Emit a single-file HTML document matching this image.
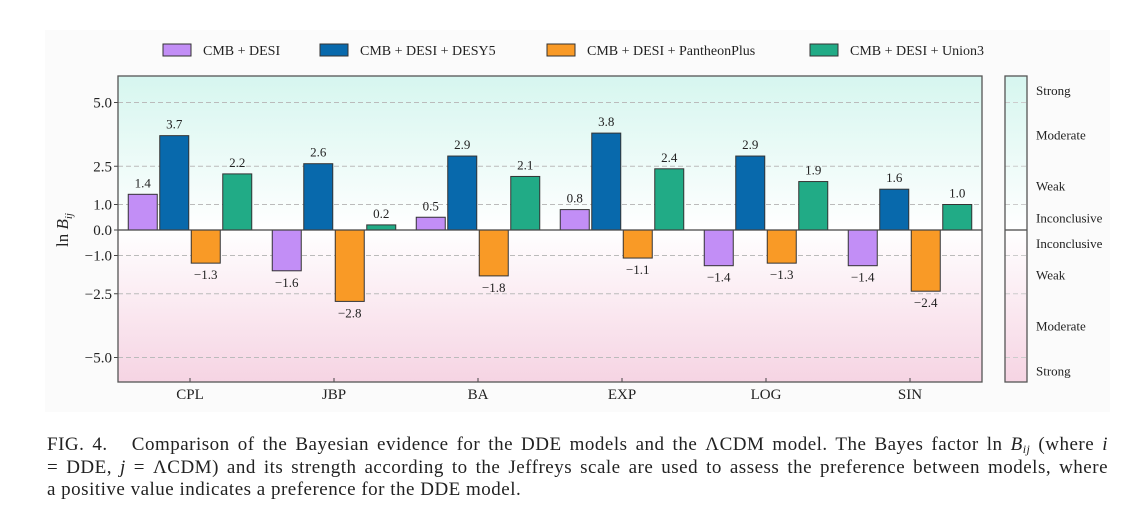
<!DOCTYPE html>
<html><head><meta charset="utf-8"><style>
body{margin:0;background:#fff;width:1147px;height:519px;overflow:hidden;font-family:"Liberation Serif",serif}
.cap{position:absolute;left:47px;top:434px;width:1061px;font-size:19px;letter-spacing:0.5px;line-height:22.5px;color:#222}
.cap div{text-align:justify;text-align-last:justify;white-space:nowrap;height:22.5px}
.cap div.last{text-align-last:left}
.cap sub{font-size:12px;line-height:0;vertical-align:-3px}
</style></head><body>
<svg id="chart" width="1147" height="430" style="position:absolute;left:0;top:0" font-family="Liberation Serif, serif">
<defs>
<linearGradient id="gtop" x1="0" y1="0" x2="0" y2="1"><stop offset="0" stop-color="#d6f6ef"/><stop offset="1" stop-color="#ffffff"/></linearGradient>
<linearGradient id="gbot" x1="0" y1="0" x2="0" y2="1"><stop offset="0" stop-color="#ffffff"/><stop offset="1" stop-color="#f6d4e3"/></linearGradient>
</defs>
<rect x="45" y="30" width="1065" height="382" fill="#fbfbfb"/>
<g id="plot"></g>
<text x="0" y="0" font-size="17" fill="#222" transform="translate(68,230) rotate(-90)" text-anchor="middle">ln <tspan font-style="italic">B</tspan><tspan font-style="italic" font-size="11" dy="4">ij</tspan></text>
</svg>
<div class="cap">
<div>FIG. 4.&nbsp;&nbsp; Comparison of the Bayesian evidence for the DDE models and the ΛCDM model. The Bayes factor ln <i>B<sub>ij</sub></i> (where <i>i</i></div>
<div>= DDE, <i>j</i> = ΛCDM) and its strength according to the Jeffreys scale are used to assess the preference between models, where</div>
<div class="last">a positive value indicates a preference for the DDE model.</div>
</div>
<script>
const categories=["CPL","JBP","BA","EXP","LOG","SIN"];
const seriesNames=["CMB + DESI","CMB + DESI + DESY5","CMB + DESI + PantheonPlus","CMB + DESI + Union3"];
const cmbDesi=[1.4,-1.6,0.5,0.8,-1.4,-1.4];
const desy5=[3.7,2.6,2.9,3.8,2.9,1.6];
const pantheon=[-1.3,-2.8,-1.8,-1.1,-1.3,-2.4];
const union3=[2.2,0.2,2.1,2.4,1.9,1.0];
const yTicks=[5.0,2.5,1.0,0.0,-1.0,-2.5,-5.0];
const yTickLabels=["5.0","2.5","1.0","0.0","−1.0","−2.5","−5.0"];
const scaleLabels=[["Strong",5.5],["Moderate",3.75],["Weak",1.75],["Inconclusive",0.5],["Inconclusive",-0.5],["Weak",-1.75],["Moderate",-3.75],["Strong",-5.5]];
const colors=["#c28ef6","#0869ac","#f99a26","#21ab86"];
const series=[cmbDesi,desy5,pantheon,union3];
const L=118,R=982,T=76,B=382,Y0=230,PX=25.5;
const y=v=>Y0-v*PX;
const x=i=>190+i*144;
const NS="http://www.w3.org/2000/svg";
const g=document.getElementById('plot');
function mk(t,a,txt){const e=document.createElementNS(NS,t);for(const k in a)e.setAttribute(k,a[k]);if(txt!=null)e.textContent=txt;g.appendChild(e);return e;}
let e;
e=mk('rect',{x:L,y:T,width:R-L,height:Y0-T,fill:'url(#gtop)'});


e=mk('rect',{x:L,y:Y0,width:R-L,height:B-Y0,fill:'url(#gbot)'});


e=mk('rect',{x:1005,y:T,width:22,height:Y0-T,fill:'url(#gtop)'});


e=mk('rect',{x:1005,y:Y0,width:22,height:B-Y0,fill:'url(#gbot)'});


yTicks.forEach((v,i)=>{
 if(v!==0){
  e=mk('line',{x1:L,x2:R,y1:y(v),y2:y(v),stroke:'#bbb','stroke-dasharray':'5,3','stroke-width':1});
  
  
  e=mk('line',{x1:1005,x2:1027,y1:y(v),y2:y(v),stroke:'#ccc','stroke-dasharray':'5,3','stroke-width':1});
  
  
 }
 e=mk('line',{x1:L-4,x2:L,y1:y(v),y2:y(v),stroke:'#444'});
 
 
 e=mk('text',{x:L-6,y:y(v)+5,'text-anchor':'end','font-size':15,fill:'#222'},yTickLabels[i]);
 
 
});
categories.forEach((c,ci)=>{
 series.forEach((s,si)=>{
  const v=s[ci],cx=x(ci)+(si-1.5)*31.5,w=29;
  e=mk('rect',{x:cx-w/2,y:Math.min(y(v),Y0),width:w,height:Math.abs(v)*PX,fill:colors[si],stroke:'#333','stroke-width':1});
  
  
  const ty=v>=0?y(v)-7:y(v)+16;
  e=mk('text',{x:cx,y:ty,'text-anchor':'middle','font-size':13,fill:'#222'},(v<0?'−':'')+Math.abs(v).toFixed(1));
  
  
 });
 e=mk('line',{x1:x(ci),x2:x(ci),y1:B,y2:B-4,stroke:'#444'});
 
 
 e=mk('text',{x:x(ci),y:B+17,'text-anchor':'middle','font-size':15,fill:'#222'},c);
 
 
});
e=mk('line',{x1:L,x2:R,y1:Y0,y2:Y0,stroke:'#444','stroke-width':1.2});


e=mk('line',{x1:1005,x2:1027,y1:Y0,y2:Y0,stroke:'#444','stroke-width':1.2});


e=mk('rect',{x:L,y:T,width:R-L,height:B-T,fill:'none',stroke:'#555','stroke-width':1.3});


e=mk('rect',{x:1005,y:T,width:22,height:B-T,fill:'none',stroke:'#555','stroke-width':1.3});


scaleLabels.forEach(([t,v])=>{
 e=mk('text',{x:1036,y:y(v)+5,'font-size':13,fill:'#222'},t);
 
 
});
const legX=[163,320,547,810];
seriesNames.forEach((n,i)=>{
 e=mk('rect',{x:legX[i],y:44,width:28,height:12,fill:colors[i],stroke:'#333'});
 
 
 e=mk('text',{x:legX[i]+40,y:55,'font-size':14,fill:'#222'},n);
 
 
});
</script>
</body></html>
